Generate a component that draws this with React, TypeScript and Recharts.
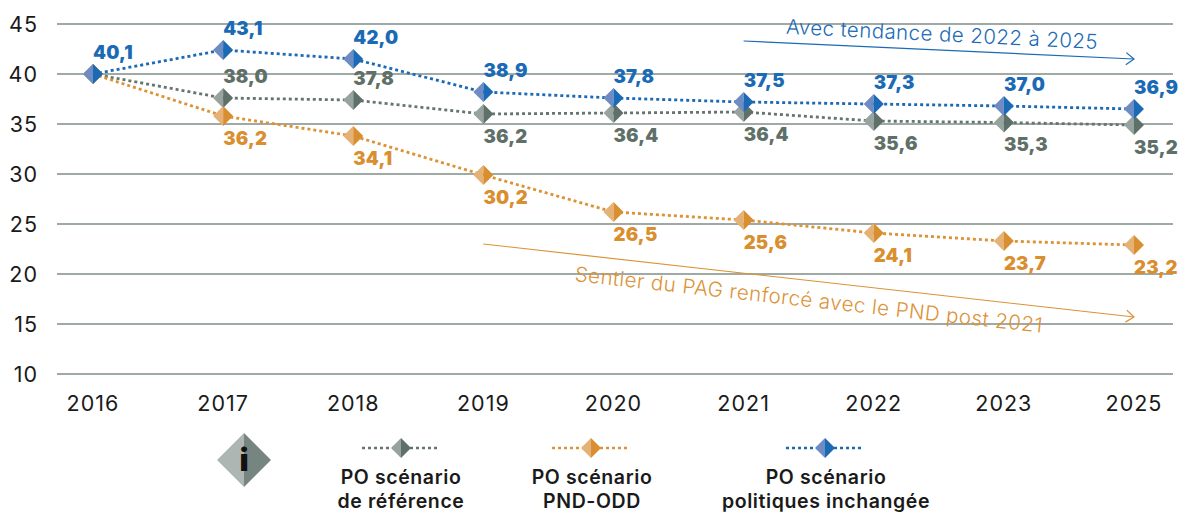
import React from "react";
import { LineChart, Line, XAxis, YAxis, CartesianGrid, LabelList, Legend, ReferenceLine } from "recharts";

const years = ["2016", "2017", "2018", "2019", "2020", "2021", "2022", "2023", "2025"];
const refValues = [40, 37.6, 37.4, 36, 36.1, 36.2, 35.3, 35.15, 34.9];
const pndValues = [40, 35.8, 33.8, 29.9, 26.2, 25.4, 24.1, 23.3, 22.9];
const polValues = [40, 42.4, 41.5, 38.2, 37.6, 37.2, 37, 36.8, 36.5];
const refLabels = ["", "38,0", "37,8", "36,2", "36,4", "36,4", "35,6", "35,3", "35,2"];
const pndLabels = ["", "36,2", "34,1", "30,2", "26,5", "25,6", "24,1", "23,7", "23,2"];
const polLabels = ["40,1", "43,1", "42,0", "38,9", "37,8", "37,5", "37,3", "37,0", "36,9"];
const yTicks = [10, 15, 20, 25, 30, 35, 40, 45];
const legendLines: Record<string, string[]> = {
  ref: ["PO scénario", "de référence"],
  pnd: ["PO scénario", "PND-ODD"],
  pol: ["PO scénario", "politiques inchangée"],
};

const FONT = "Inter, 'Noto Sans', sans-serif";
const BLUE = { line: "#1a6ab5", light: "#6f8bc3", dark: "#1a6ab5" };
const GRAY = { line: "#66766f", light: "#96a39f", dark: "#5f7069" };
const ORANGE = { line: "#dc9235", light: "#e4b277", dark: "#d98f30" };

const rows = years.map((year, i) => ({
  year,
  ref: refValues[i],
  pnd: pndValues[i],
  pol: polValues[i],
  refLabel: refLabels[i],
  pndLabel: pndLabels[i],
  polLabel: polLabels[i],
}));

function diamond(c: { light: string; dark: string }, r = 10) {
  return (props: any) => {
    const { cx, cy, index } = props;
    return (
      <g key={index}>
        <path d={`M${cx} ${cy - r}L${cx - r} ${cy}L${cx} ${cy + r}Z`} fill={c.light} />
        <path d={`M${cx} ${cy - r}L${cx + r} ${cy}L${cx} ${cy + r}Z`} fill={c.dark} />
      </g>
    );
  };
}

function valueLabel(color: string, offset: (i: number) => number) {
  return (props: any) => {
    const { x, y, value, index } = props;
    if (!value) return null;
    return (
      <text x={x} y={y + offset(index)} dy="0.36em" fill={color} fontFamily={FONT} fontSize={18.5} fontWeight={900} letterSpacing={0.2}>
        {value}
      </text>
    );
  };
}

function trendArrow(color: string, text: string, textWidth: number, textDx: number, textDy: number, angle: number) {
  return (props: any) => {
    const { x1, y1, x2, y2 } = props;
    const a = Math.atan2(y2 - y1, x2 - x1);
    const h = 10;
    const p1 = [x2 - h * Math.cos(a - 0.65), y2 - h * Math.sin(a - 0.65)];
    const p2 = [x2 - h * Math.cos(a + 0.65), y2 - h * Math.sin(a + 0.65)];
    const mx = (x1 + x2) / 2 + textDx;
    const my = (y1 + y2) / 2 + textDy;
    return (
      <g>
        <line x1={x1} y1={y1} x2={x2} y2={y2} stroke={color} strokeWidth={1.2} />
        <polyline points={`${p1[0]},${p1[1]} ${x2},${y2} ${p2[0]},${p2[1]}`} fill="none" stroke={color} strokeWidth={1.2} />
        <text
          x={mx}
          y={my}
          dy="0.36em"
          textAnchor="middle"
          fill={color}
          fontFamily={FONT}
          fontSize={20.5}
          fontWeight={300}
          textLength={textWidth}
          transform={`rotate(${angle} ${mx} ${my})`}
        >
          {text}
        </text>
      </g>
    );
  };
}

function LegendContent({ payload }: any) {
  const colors: Record<string, any> = { ref: GRAY, pnd: ORANGE, pol: BLUE };
  const layout: Record<string, { cx: number; tx: number }> = {
    ref: { cx: 401, tx: 401 },
    pnd: { cx: 591, tx: 592 },
    pol: { cx: 825, tx: 826 },
  };
  return (
    <svg width={1179} height={512} style={{ display: "block" }}>
      <g>
        <path d="M244 433L217 460L244 487Z" fill="#adb6b3" />
        <path d="M244 433L271 460L244 487Z" fill="#76857f" />
        <text x={244} y={471} textAnchor="middle" fontFamily={FONT} fontSize={31} fontWeight={900} fill="#111">i</text>
      </g>
      {(payload || []).map((p: any) => {
        const key = p.dataKey as string;
        const c = colors[key];
        const { cx, tx } = layout[key];
        return (
          <g key={key}>
            <line x1={cx - 39} x2={cx + 39} y1={448} y2={448} stroke={c.line} strokeWidth={2.5} strokeDasharray="3 3" />
            <path d={`M${cx} 438L${cx - 10} 448L${cx} 458Z`} fill={c.light} />
            <path d={`M${cx} 438L${cx + 10} 448L${cx} 458Z`} fill={c.dark} />
            {legendLines[key].map((t, i) => (
              <text key={t} x={tx} y={484 + i * 23.5} textAnchor="middle" fontFamily={FONT} fontSize={19.5} fontWeight={600} letterSpacing={0.6} fill="#1a1a1a">
                {t}
              </text>
            ))}
          </g>
        );
      })}
    </svg>
  );
}

export default function App() {
  const axisTick = { fill: "#1a1a1a", fontFamily: FONT, fontSize: 21.5, fontWeight: 400, letterSpacing: 1 };
  return (
    <div style={{ position: "absolute", left: 0, top: 0, width: 1179, height: 512, background: "#fff" }}>
      <LineChart width={1179} height={512} data={rows} margin={{ top: 24, right: 6, bottom: 0, left: 0 }}>
        <CartesianGrid vertical={false} stroke="#7f8c88" strokeWidth={1.5} />
        <XAxis
          dataKey="year"
          height={138}
          padding={{ left: 36, right: 39 }}
          axisLine={false}
          tickLine={false}
          tickSize={0}
          tickMargin={22}
          tick={axisTick}
          interval={0}
        />
        <YAxis
          width={57}
          domain={[10, 45]}
          ticks={yTicks}
          axisLine={false}
          tickLine={false}
          tickSize={0}
          tickMargin={19}
          tick={axisTick}
          interval={0}
        />
        <ReferenceLine
          segment={[{ x: "2021", y: 43.3 }, { x: "2025", y: 41.5 }]}
          shape={trendArrow(BLUE.line, "Avec tendance de 2022 à 2025", 312, 3, -16, 2.8)}
        />
        <ReferenceLine
          segment={[{ x: "2019", y: 23 }, { x: "2025", y: 15.7 }]}
          shape={trendArrow(ORANGE.line, "Sentier du PAG renforcé avec le PND post 2021", 470, 0, 19, 6.3)}
        />
        <Line dataKey="ref" name="PO scénario de référence" stroke={GRAY.line} strokeWidth={2.8} strokeDasharray="3 3" dot={diamond(GRAY)} isAnimationActive={false}>
          <LabelList dataKey="refLabel" content={valueLabel(GRAY.dark, (i) => (i <= 2 ? -22 : 22))} />
        </Line>
        <Line dataKey="pnd" name="PO scénario PND-ODD" stroke={ORANGE.line} strokeWidth={2.8} strokeDasharray="3 3" dot={diamond(ORANGE)} isAnimationActive={false}>
          <LabelList dataKey="pndLabel" content={valueLabel(ORANGE.dark, () => 22)} />
        </Line>
        <Line dataKey="pol" name="PO scénario politiques inchangée" stroke={BLUE.line} strokeWidth={2.8} strokeDasharray="3 3" dot={diamond(BLUE)} isAnimationActive={false}>
          <LabelList dataKey="polLabel" content={valueLabel(BLUE.dark, () => -22)} />
        </Line>
        <Legend
          layout="horizontal"
          verticalAlign="middle"
          align="center"
          content={LegendContent}
          wrapperStyle={{ position: "absolute", left: 0, top: 0, width: 1179, height: 512, pointerEvents: "none" }}
        />
      </LineChart>
    </div>
  );
}
